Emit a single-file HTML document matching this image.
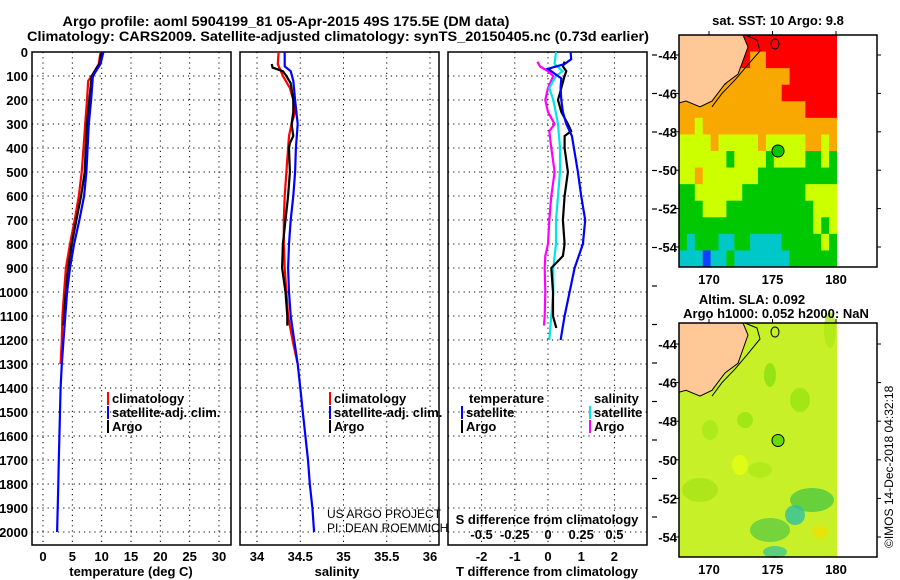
<!DOCTYPE html>
<html><head><meta charset="utf-8"><style>
html,body{margin:0;padding:0;background:#fff;}
svg{display:block;font-family:"Liberation Sans",sans-serif;}
.b{font-weight:bold;}
</style></head><body>
<svg id="c" width="900" height="580" viewBox="0 0 900 580" xmlns="http://www.w3.org/2000/svg">
<text x="286" y="26" text-anchor="middle" class="b" font-size="14" textLength="447" lengthAdjust="spacingAndGlyphs">Argo profile: aoml 5904199_81 05-Apr-2015 49S 175.5E (DM data)</text>
<text x="338" y="41" text-anchor="middle" class="b" font-size="14" textLength="622" lengthAdjust="spacingAndGlyphs">Climatology: CARS2009. Satellite-adjusted climatology: synTS_20150405.nc (0.73d earlier)</text>
<g id="g"></g>
</svg>
<script>
// ---- data ----
var depthTicks=[0,100,200,300,400,500,600,700,800,900,1000,1100,1200,1300,1400,1500,1600,1700,1800,1900,2000];
var tTicks=[0,5,10,15,20,25,30];
var sTicks=[34,34.5,35,35.5,36];
var sTickLabels=["34","34.5","35","35.5","36"];
var dTTicks=[-2,-1,0,1,2];
var dSTickLabels=["-0.5","-0.25","0","0.25","0.5"];
var dSTicks=[-0.5,-0.25,0,0.25,0.5];

var tClimDepth=[0,50,100,120,200,300,400,500,600,700,800,900,1000,1100,1200,1300];
var tClim=[9.8,9.5,8.3,7.7,7.5,7.2,6.9,6.6,6.1,5.4,4.6,3.9,3.6,3.3,3.2,3.0];
var tSatDepth=[0,50,100,200,300,400,500,600,700,800,900,1000,1100,1200,1300,1400,1500,1600,1700,1800,1900,2000];
var tSat=[10.3,9.8,8.5,8.2,7.8,7.6,7.4,7.0,6.2,5.3,4.6,4.1,3.8,3.5,3.2,3.0,2.9,2.8,2.7,2.6,2.5,2.4];
var tArgoDepth=[0,50,100,200,300,400,500,600,700,800,900,1000,1100,1140];
var tArgo=[10.0,9.6,8.3,7.9,7.5,7.3,7.1,6.5,5.7,4.9,4.3,3.9,3.6,3.5];

var sClimDepth=[0,50,100,150,200,250,300,350,400,500,600,700,800,900,1000,1100,1200,1300];
var sClim=[34.25,34.24,34.30,34.38,34.42,34.44,34.40,34.37,34.36,34.34,34.32,34.31,34.31,34.32,34.34,34.36,34.41,34.47];
var sSatDepth=[0,60,80,120,200,300,400,500,600,700,800,900,1000,1100,1200,1300,1400,1500,1600,1700,1800,1900,2000];
var sSat=[34.32,34.32,34.39,34.42,34.44,34.47,34.45,34.44,34.42,34.39,34.37,34.36,34.37,34.39,34.43,34.47,34.50,34.53,34.56,34.59,34.61,34.64,34.66];
var sArgoDepth=[50,65,80,100,130,200,250,300,350,380,400,500,600,700,800,900,1000,1100,1140];
var sArgo=[34.17,34.18,34.30,34.34,34.39,34.42,34.42,34.40,34.42,34.38,34.37,34.38,34.36,34.33,34.30,34.29,34.33,34.35,34.35];

var dTSatDepth=[0,30,50,70,90,110,150,200,250,300,350,400,500,600,700,800,900,1000,1100,1200];
var dTSat=[0.68,0.7,0.5,0.0,0.2,0.4,0.38,0.4,0.45,0.55,0.72,0.78,0.9,1.0,1.12,1.05,0.8,0.65,0.5,0.38];
var dTArgoDepth=[40,60,80,100,150,200,250,300,330,350,400,500,600,700,800,850,900,1000,1100,1150];
var dTArgo=[0.5,0.45,0.55,0.5,0.4,0.3,0.4,0.6,0.7,0.5,0.5,0.6,0.5,0.45,0.5,0.45,0.1,0.15,0.15,0.25];
var dSSatDepth=[0,50,80,100,150,200,300,400,500,600,700,800,900,1000,1100,1200];
var dSSat=[0.06,0.05,0.11,0.06,0.01,0.04,0.075,0.09,0.09,0.075,0.06,0.06,0.04,0.04,0.025,0.01];
var dSArgoDepth=[40,60,80,100,150,200,250,300,330,400,500,600,700,800,850,900,1000,1100,1140];
var dSArgo=[-0.08,-0.06,0,0.04,0,-0.02,0,0.05,0.01,0.025,0.05,0.025,0.01,0,-0.02,-0.025,-0.02,-0.025,-0.03];

var sstRows=[
"RRRRRRRRRRRRRRRRRRRR",
"RRRRRRRRROORRRRRRRRR",
"RRRRRROOOOOOOORRRRRR",
"RRRROOOOOOOOORRRRRRR",
"OOOOOOOOOOOOOOOORRRR",
"OOYOOOOOOOOOOOOOOOOO",
"YYYYOYYYYYOYYYYYOOYO",
"YYYYYYGYYYYGYYYYGGYG",
"YYOYYYYYYYGGGGGGGGGG",
"GGYYYYYYGGGGGGGGYYYY",
"GGGYYYGGGGGGGGGGGYYY",
"GGGGGGGGGGGGGGGGGYGY",
"GCGGGCCGGCCCCGGGGGYG",
"CCCBCCGCCCCCCCGGGGGG"];
var lonTicks=[170,175,180];
var latTicks=[-44,-46,-48,-50,-52,-54];

// ---- helpers ----
var NS="http://www.w3.org/2000/svg";
var G=document.getElementById('g');
function mk(t,a,p){var e=document.createElementNS(NS,t);for(var k in a)e.setAttribute(k,a[k]);(p||G).appendChild(e);return e;}
var top0=52,bot=545;
function yD(d){return 52+d*0.24;}
function xT(v){return 43+v*(176/30);}
function xS(v){return 257+(v-34)*86.5;}
function xDT(v){return 548+v*33.2;}
function xDS(v){return 548+v*132.8;}

var panels=[[32,231],[240,439],[448,647]];
panels.forEach(function(p,i){
  var r=mk('rect',{x:p[0],y:top0,width:p[1]-p[0],height:bot-top0,fill:'none',stroke:'#000','stroke-width':1.5});
  
  
  depthTicks.forEach(function(d){
    if(d===0)return;
    var l=mk('line',{x1:p[0],x2:p[1],y1:yD(d),y2:yD(d),stroke:'#000','stroke-width':1,'stroke-dasharray':'1.2,4'});
    
    
  });
});
depthTicks.forEach(function(d){
  var t=mk('text',{x:28,y:yD(d)+5,'text-anchor':'end','font-size':13,'font-weight':'bold'});
  t.textContent=d;
  
  
});
function vgrid(ticks,fx,p,labels,ly){
  ticks.forEach(function(v,i){
    var x=fx(v);
    var l=mk('line',{x1:x,x2:x,y1:top0,y2:bot,stroke:'#000','stroke-width':1,'stroke-dasharray':'1.2,4'});
    
    
    if(labels){
      var t=mk('text',{x:x,y:ly,'text-anchor':'middle','font-size':13,'font-weight':'bold'});
      t.textContent=labels[i];
      
      
    }
  });
}
vgrid(tTicks,xT,panels[0],tTicks,561);
vgrid(sTicks,xS,panels[1],sTickLabels,561);
vgrid(dTTicks,xDT,panels[2],dTTicks,561);
dSTicks.forEach(function(v,i){
  var t=mk('text',{x:xDS(v),y:539,'text-anchor':'middle','font-size':13,'font-weight':'bold'});
  t.textContent=dSTickLabels[i];
  
  
});
function label(txt,x,y,name,anchor,sz){
  var t=mk('text',{x:x,y:y,'text-anchor':anchor||'middle','font-size':sz||13,'font-weight':'bold'});
  t.textContent=txt;
  
  
  return t;
}
label('temperature (deg C)',131,576,'x-axis-title-temperature');
label('salinity',337,576,'x-axis-title-salinity');
label('T difference from climatology',547,576,'x-axis-title-t-difference');
label('S difference from climatology',547,524,'s-difference-title');

function series(ds,vs,fx,col,name){
  var pts=ds.map(function(d,i){return fx(vs[i]).toFixed(1)+','+yD(d).toFixed(1);}).join(' ');
  var e=mk('polyline',{points:pts,fill:'none',stroke:col,'stroke-width':2.2});
  
  
}
series(tClimDepth,tClim,xT,'#ff0000','temperature-climatology-line');
series(tArgoDepth,tArgo,xT,'#000000','temperature-argo-line');
series(tSatDepth,tSat,xT,'#0000ff','temperature-satellite-line');
series(sClimDepth,sClim,xS,'#ff0000','salinity-climatology-line');
series(sArgoDepth,sArgo,xS,'#000000','salinity-argo-line');
series(sSatDepth,sSat,xS,'#0000ff','salinity-satellite-line');
series(dSArgoDepth,dSArgo,xDS,'#ff00ff','s-diff-argo-line');
series(dSSatDepth,dSSat,xDS,'#00e5e5','s-diff-satellite-line');
series(dTArgoDepth,dTArgo,xDT,'#000000','t-diff-argo-line');
series(dTSatDepth,dTSat,xDT,'#0000ff','t-diff-satellite-line');

function legend(x,y,col,txt,name){
  var b=mk('rect',{x:x,y:y-11,width:2,height:13,fill:col});
  
  
  label(txt,x+5,y,name,'start',13);
}
legend(107,403,'#ff0000','climatology','legend-climatology-t');
legend(107,417,'#0000ff','satellite-adj. clim.','legend-satellite-t');
legend(107,431,'#000000','Argo','legend-argo-t');
legend(329,403,'#ff0000','climatology','legend-climatology-s');
legend(329,417,'#0000ff','satellite-adj. clim.','legend-satellite-s');
legend(329,431,'#000000','Argo','legend-argo-s');
label('temperature',469,403,'legend-header-temperature','start');
label('salinity',594,403,'legend-header-salinity','start');
legend(461,417,'#0000ff','satellite','legend-t-satellite');
legend(461,431,'#000000','Argo','legend-t-argo');
legend(589,417,'#00e5e5','satellite','legend-s-satellite');
legend(589,431,'#ff00ff','Argo','legend-s-argo');
var c1=mk('text',{x:327,y:518,'font-size':12});c1.textContent='US ARGO PROJECT';


var c2=mk('text',{x:327,y:532,'font-size':12});c2.textContent='PI: DEAN ROEMMICH';


for(var k=0;k<13;k++){
  var tk=mk('line',{x1:652,x2:657,y1:55+k*38.5,y2:55+k*38.5,stroke:'#000','stroke-width':1.2});
  
  
}

// ---- maps ----
var colMap={R:'#ff0000',O:'#f8a800',Y:'#ccff00',G:'#00c800',C:'#00c8c8',B:'#1040ff'};
function map(y0,y1,lat44,lat54,kind,name){
  var x0=679,x1=877,xc=837;
  var grp=mk('g',{});
  
  
  if(kind==='sst'){
    var rh=(y1-y0)/sstRows.length, cw=(xc-x0)/sstRows[0].length;
    sstRows.forEach(function(row,ri){
      for(var ci=0;ci<row.length;ci++){
        var cell=mk('rect',{x:x0+ci*cw,y:y0+ri*rh,width:cw+0.5,height:rh+0.5,fill:colMap[row[ci]]},grp);
        
        
      }
    });
  } else {
    mk('rect',{x:x0,y:y0,width:xc-x0,height:y1-y0,fill:'#c8f028'},grp);
    [[700,380,6,12,'#99e410'],[745,420,8,8,'#99e410'],[770,375,6,12,'#8ae010'],[800,400,10,12,'#99e410'],[710,430,8,10,'#a6e818'],[812,500,22,12,'#50c840'],[795,515,10,10,'#30c0a0'],[770,530,20,12,'#60cc40'],[775,552,12,6,'#40c890'],[820,532,8,6,'#f0e000'],[740,465,8,10,'#e4ff10'],[700,490,18,12,'#a6e418'],[760,470,12,8,'#aee818'],[830,330,6,18,'#aee818']].forEach(function(b){
      var e=mk('ellipse',{cx:b[0],cy:b[1],rx:b[2],ry:b[3],fill:b[4],opacity:0.8},grp);
      
      
    });
  }
  var s=(lat54-lat44)/10;
  function ly(l){return lat44+(-44-l)*s;}
  var land=mk('path',{d:'M'+x0+','+y0+' L743,'+y0+' L748,'+(y0+12)+' L738,'+ly(-45)+' L725,'+ly(-45.5)+' L712,'+ly(-46.4)+' L700,'+ly(-46.7)+' L686,'+ly(-46.4)+' L679,'+ly(-46.5)+' Z',fill:'#ffc896',stroke:'#000','stroke-width':1},grp);
  
  
  var coast=mk('polyline',{points:'745,'+y0+' 757,'+(y0+5)+' 760,'+(y0+16)+' 748,'+ly(-44.5)+' 735,'+ly(-45.3)+' 722,'+ly(-46)+' 712,'+ly(-46.7),fill:'none',stroke:'#000','stroke-width':1},grp);
  
  
  mk('ellipse',{cx:775,cy:y0+9,rx:4,ry:5,fill:'none',stroke:'#000'},grp);
  mk('rect',{x:xc,y:y0,width:x1-xc,height:y1-y0,fill:'#fff'},grp);
  var fr=mk('rect',{x:x0,y:y0,width:x1-x0,height:y1-y0,fill:'none',stroke:'#000','stroke-width':1.5},grp);
  
  
  var pos=mk('circle',{cx:778,cy:ly(-49),r:6,fill:kind==='sst'?'#00c800':'#66dd00',stroke:'#000','stroke-width':1},grp);
  
  
  latTicks.forEach(function(l){
    mk('line',{x1:x0-4,x2:x0,y1:ly(l),y2:ly(l),stroke:'#000'},grp);
    mk('line',{x1:x1,x2:x1+4,y1:ly(l),y2:ly(l),stroke:'#000'},grp);
    var t=mk('text',{x:677,y:ly(l)+5,'text-anchor':'end','font-size':13,'font-weight':'bold'},grp);
    t.textContent=l;
    
    
  });
  lonTicks.forEach(function(l){
    var x=709+(l-170)*12.7;
    mk('line',{x1:x,x2:x,y1:y0-4,y2:y0,stroke:'#000'},grp);
    var t=mk('text',{x:x,y:y1+17,'text-anchor':'middle','font-size':13,'font-weight':'bold'},grp);
    t.textContent=l;
    
    
  });
}
map(35,267,55,247,'sst','sst-map');
map(323,557,344,537,'sla','sla-map');
label('sat. SST: 10 Argo: 9.8',778,25,'sst-map-title');
label('Altim. SLA: 0.092',752,304,'sla-map-title');
label('Argo h1000: 0.052 h2000: NaN',776,318,'argo-height-title');
var im=mk('text',{x:0,y:0,'font-size':12,transform:'translate(893,548) rotate(-90)'});
im.textContent='\u00a9IMOS 14-Dec-2018 04:32:18';


</script>
</body></html>
